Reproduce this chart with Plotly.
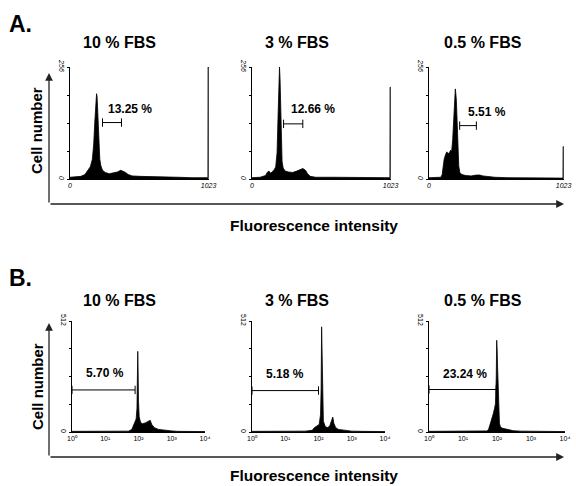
import math
import plotly.graph_objects as go

W, H = 576, 486

# ---------------- data ----------------
titles = ["10 % FBS", "3 % FBS", "0.5 % FBS"]

# Panel A: DNA content histograms (linear channel 0-1023, count 0-256)
a1_x = [0, 40, 80, 110, 130, 150, 165, 175, 183, 190, 196, 200, 204, 209, 214, 220, 228, 240, 260, 290, 320, 350, 375, 390, 410, 430, 460, 520, 600, 700, 800, 900, 1000, 1018, 1019, 1023]
a1_y = [4, 5, 6, 10, 18, 28, 45, 80, 130, 175, 195, 188, 160, 110, 70, 45, 30, 20, 15, 12, 14, 16, 20, 18, 15, 10, 7, 6, 5, 4, 4, 3, 3, 3, 256, 256]

a2_x = [0, 60, 100, 112, 125, 138, 150, 162, 175, 185, 192, 198, 203, 207, 211, 216, 222, 230, 245, 270, 300, 330, 355, 375, 395, 410, 430, 470, 600, 800, 1000, 1018, 1019, 1023]
a2_y = [3, 4, 8, 15, 18, 13, 17, 20, 28, 60, 140, 220, 256, 230, 150, 80, 40, 25, 18, 16, 15, 18, 22, 24, 20, 12, 6, 4, 4, 3, 3, 3, 210, 210]

a3_x = [0, 50, 90, 100, 108, 115, 125, 135, 145, 155, 165, 172, 180, 188, 195, 200, 204, 208, 214, 220, 226, 234, 250, 280, 320, 360, 385, 410, 450, 500, 600, 800, 1000, 1018, 1019, 1023]
a3_y = [3, 3, 4, 10, 30, 45, 55, 62, 58, 60, 66, 62, 90, 150, 185, 206, 195, 180, 130, 70, 30, 15, 10, 8, 7, 9, 9, 7, 5, 4, 3, 3, 2, 2, 74, 74]

# Panel B: log fluorescence histograms (10^0 - 10^4, count 0-512)
b1_x = [1, 5, 20, 50, 63, 70, 78, 85, 90, 93, 95, 97, 100, 105, 115, 130, 160, 200, 224, 250, 300, 400, 600, 1000, 1500, 3000, 10000]
b1_y = [3, 3, 3, 4, 12, 30, 45, 60, 110, 250, 372, 300, 140, 70, 45, 38, 42, 50, 54, 35, 20, 12, 8, 5, 3, 2, 2]

b2_x = [1, 10, 40, 65, 75, 90, 105, 115, 120, 124, 128, 133, 140, 160, 190, 220, 250, 269, 290, 330, 400, 600, 1000, 2000, 10000]
b2_y = [3, 3, 4, 8, 20, 28, 35, 80, 200, 485, 300, 120, 50, 25, 20, 30, 55, 69, 40, 20, 12, 7, 4, 3, 2]

b3_x = [1, 10, 30, 50, 56, 62, 70, 78, 85, 90, 95, 98, 101, 104, 108, 112, 118, 125, 140, 170, 220, 300, 500, 1000, 10000]
b3_y = [3, 3, 3, 5, 10, 30, 55, 85, 110, 130, 250, 423, 380, 300, 200, 80, 40, 25, 18, 15, 10, 6, 4, 3, 2]

a_gates = [[240, 380], [233, 375], [233, 360]]
a_gate_labels = ["13.25 %", "12.66 %", "5.51 %"]
b_gates = [[1, 79], [1, 100], [1, 95]]
b_gate_labels = ["5.70 %", "5.18 %", "23.24 %"]

a_ytick_vals = [0, 64, 128, 192, 256]
a_ytick_text = ["0", "", "", "", "256"]
a_xtick_vals = [0, 1023]
a_xtick_text = ["0", "1023"]
b_ytick_vals = [0, 128, 256, 384, 512]
b_ytick_text = ["0", "", "", "", "512"]
b_xtick_vals = [1, 10, 100, 1000, 10000]
b_xtick_text = ["10⁰", "10¹", "10²", "10³", "10⁴"]

# ---------------- layout helpers ----------------
FONT = "Liberation Sans, Arial, sans-serif"


def px(x):
    return x / W


def py(y):
    return 1 - y / H


a_dom_x = [(70, 209), (252, 391), (429, 564)]
a_dom_y = (67, 179)
b_dom_x = [(72, 205), (252, 385), (429, 565)]
b_dom_y = (321, 432)
title_cx = [119, 297, 483]

a_gate_h = [129, 126, 122]
b_gate_h = [194, 191, 196]
a_lab_pos = [(265, 160), (270, 160), (284, 153)]
b_lab_pos = [(10, 271), (9.5, 267), (11.5, 267)]

fig = go.Figure()
layout = dict(
    width=W, height=H, margin=dict(l=0, r=0, t=0, b=0, pad=0), autosize=False,
    paper_bgcolor="white", plot_bgcolor="white", showlegend=False,
    font=dict(family=FONT, color="black"),
)
annotations = []

a_data = [(a1_x, a1_y), (a2_x, a2_y), (a3_x, a3_y)]
b_data = [(b1_x, b1_y), (b2_x, b2_y), (b3_x, b3_y)]

fill_style = dict(mode="lines", fill="tozeroy", fillcolor="black",
                  line=dict(color="black", width=0.8), hoverinfo="skip")
gate_style = dict(mode="lines+markers", line=dict(color="black", width=1),
                  marker=dict(symbol="line-ns", size=6, line=dict(color="black", width=1)),
                  hoverinfo="skip")

common_axis = dict(showline=True, linecolor="black", linewidth=1, showgrid=False,
                   zeroline=False, automargin=False)

for i in range(3):
    # panel A
    n = i + 1
    xa, ya = (f"x{n}" if n > 1 else "x"), (f"y{n}" if n > 1 else "y")
    fig.add_trace(go.Scatter(x=a_data[i][0], y=a_data[i][1], xaxis=xa, yaxis=ya, **fill_style))
    fig.add_trace(go.Scatter(x=a_gates[i], y=[a_gate_h[i]] * 2, xaxis=xa, yaxis=ya, **gate_style))
    layout[f"xaxis{n if n > 1 else ''}"] = dict(
        domain=[px(a_dom_x[i][0]), px(a_dom_x[i][1])], range=[0, 1026], anchor=ya,
        tickvals=a_xtick_vals, ticktext=[f"<i>{t}</i>" for t in a_xtick_text],
        ticks="", tickfont=dict(size=7, family=FONT), ticklabelstandoff=0, **common_axis)
    layout[f"yaxis{n if n > 1 else ''}"] = dict(
        domain=[py(a_dom_y[1]), py(a_dom_y[0])], range=[0, 256], anchor=xa,
        tickvals=a_ytick_vals, ticktext=[f"<i>{t}</i>" for t in a_ytick_text],
        ticks="outside", ticklen=2, tickcolor="black", tickangle=90,
        tickfont=dict(size=7, family=FONT), **common_axis)
    annotations.append(dict(xref=xa, yref=ya, x=a_lab_pos[i][0], y=a_lab_pos[i][1],
                            text=f"<b>{a_gate_labels[i]}</b>", showarrow=False,
                            xanchor="left", yanchor="middle",
                            font=dict(size=12, family=FONT)))
    annotations.append(dict(xref="paper", yref="paper",
                            x=px(title_cx[i]), y=py(43),
                            text=f"<b>{titles[i]}</b>", showarrow=False,
                            xanchor="center", yanchor="middle",
                            font=dict(size=16, family=FONT)))

    # panel B
    m = i + 4
    xb, yb = f"x{m}", f"y{m}"
    fig.add_trace(go.Scatter(x=b_data[i][0], y=b_data[i][1], xaxis=xb, yaxis=yb, **fill_style))
    fig.add_trace(go.Scatter(x=b_gates[i], y=[b_gate_h[i]] * 2, xaxis=xb, yaxis=yb, **gate_style))
    layout[f"xaxis{m}"] = dict(
        domain=[px(b_dom_x[i][0]), px(b_dom_x[i][1])], type="log", range=[0, 4], anchor=yb,
        tickvals=b_xtick_vals, ticktext=b_xtick_text,
        ticks="", tickfont=dict(size=7, family=FONT), ticklabelstandoff=0, **common_axis)
    layout[f"yaxis{m}"] = dict(
        domain=[py(b_dom_y[1]), py(b_dom_y[0])], range=[0, 512], anchor=xb,
        tickvals=b_ytick_vals, ticktext=b_ytick_text,
        ticks="outside", ticklen=2, tickcolor="black", tickangle=90,
        tickfont=dict(size=7, family=FONT), **common_axis)
    annotations.append(dict(xref=xb, yref=yb, x=math.log10(b_lab_pos[i][0]), y=b_lab_pos[i][1],
                            text=f"<b>{b_gate_labels[i]}</b>", showarrow=False,
                            xanchor="center", yanchor="middle",
                            font=dict(size=12, family=FONT)))
    annotations.append(dict(xref="paper", yref="paper",
                            x=px(title_cx[i]), y=py(300),
                            text=f"<b>{titles[i]}</b>", showarrow=False,
                            xanchor="center", yanchor="middle",
                            font=dict(size=16, family=FONT)))

# panel letters, axis titles and big arrows
for letter, ly in (("A.", 24), ("B.", 278)):
    annotations.append(dict(xref="paper", yref="paper", x=px(7), y=py(ly),
                            text=f"<b>{letter}</b>", showarrow=False,
                            xanchor="left", yanchor="middle", font=dict(size=23, family=FONT)))

for (vtip, base, cy, fy) in ((73, 204, 131, 225), (323, 457, 387, 475)):
    annotations.append(dict(xref="paper", yref="paper", x=px(37), y=py(cy),
                            text="<b>Cell number</b>", textangle=-90, showarrow=False,
                            xanchor="center", yanchor="middle", font=dict(size=15, family=FONT)))
    annotations.append(dict(xref="paper", yref="paper", x=px(314), y=py(fy),
                            text="<b>Fluorescence intensity</b>", showarrow=False,
                            xanchor="center", yanchor="middle", font=dict(size=15.5, family=FONT)))
    annotations.append(dict(xref="paper", yref="paper", x=px(49), y=py(vtip), text="",
                            showarrow=True, axref="pixel", ayref="pixel", ax=0, ay=base - vtip,
                            arrowhead=2, arrowsize=1.2, arrowwidth=1.3, arrowcolor="#222"))
    annotations.append(dict(xref="paper", yref="paper", x=px(564), y=py(base), text="",
                            showarrow=True, axref="pixel", ayref="pixel", ax=-(564 - 49), ay=0,
                            arrowhead=2, arrowsize=1.2, arrowwidth=1.3, arrowcolor="#222"))

layout["annotations"] = annotations
fig.update_layout(**layout)
fig.write_html("out.html")
